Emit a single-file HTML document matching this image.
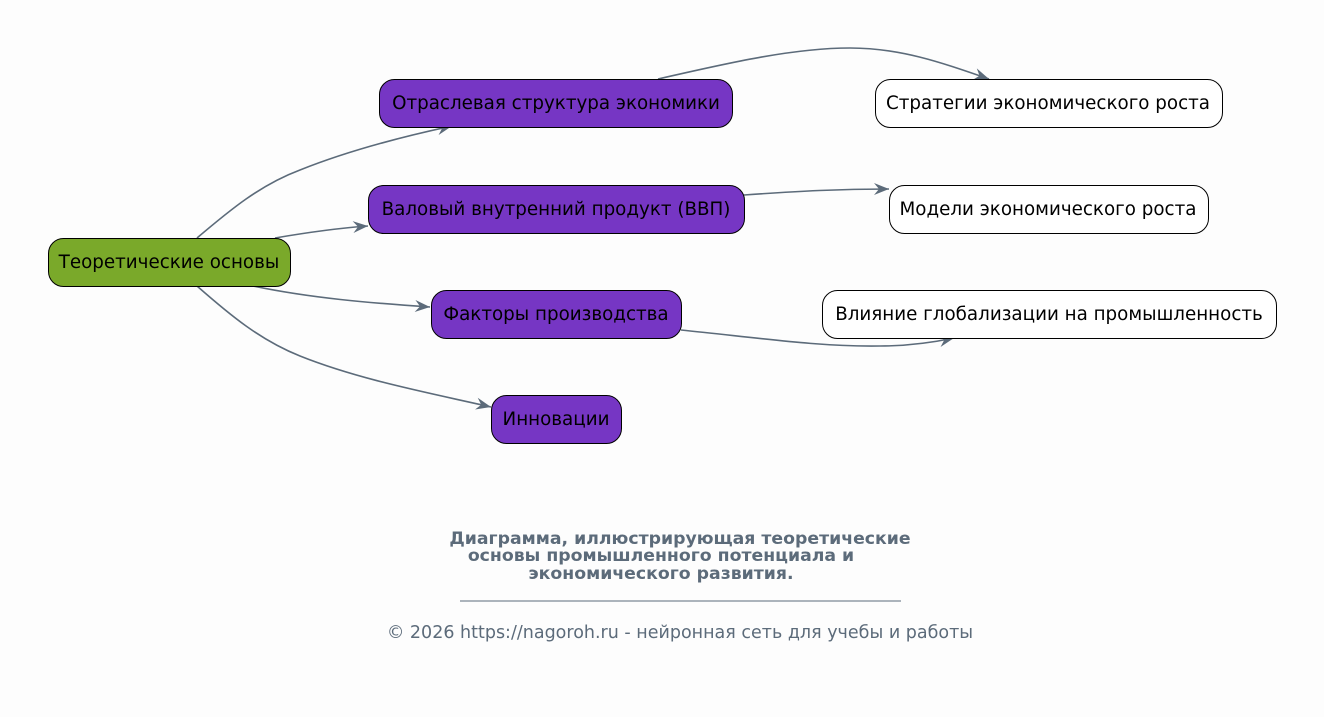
<!DOCTYPE html>
<html><head><meta charset="utf-8"><style>
html,body{margin:0;padding:0;background:#fdfdfd;}
svg{display:block;}
text{font-family:"DejaVu Sans","Liberation Sans",sans-serif;}
</style></head><body>
<svg width="1324" height="717" viewBox="0 0 1324 717" xmlns="http://www.w3.org/2000/svg">
<defs>
<marker id="a" viewBox="0 0 16 14" refX="15" refY="7" markerWidth="16" markerHeight="14" markerUnits="userSpaceOnUse" orient="auto">
<path d="M0,1 L15,7 L0,13 L5,7 z" fill="#5c6b7a"/>
</marker>
</defs>
<rect width="1324" height="717" fill="#fdfdfd"/>
<g fill="none" stroke="#5c6b7a" stroke-width="1.6" marker-end="url(#a)">
<path d="M197,238 C230,210 260,185 300,170 C350,150 410,135 452,126"/>
<path d="M275,238 C310,232 340,228 368,226"/>
<path d="M253,286 C310,298 370,303 430,307"/>
<path d="M197,286 C230,315 260,340 300,356 C360,380 430,393 491,407"/>
<path d="M658,79 C720,65 790,48 850,48 C900,48 940,62 989,79"/>
<path d="M744,195 C800,191 840,189 889,189"/>
<path d="M681,330 C760,338 820,347 880,346 C910,346 935,342 954,338"/>
</g>
<g stroke="#000" stroke-width="1">
<rect x="48.5" y="238.5" width="242" height="48" rx="15" fill="#7aa92a"/>
<rect x="379.5" y="79.5" width="353" height="48" rx="15" fill="#7636c4"/>
<rect x="368.5" y="185.5" width="376" height="48" rx="15" fill="#7636c4"/>
<rect x="431.5" y="290.5" width="250" height="48" rx="15" fill="#7636c4"/>
<rect x="491.5" y="395.5" width="130" height="48" rx="15" fill="#7636c4"/>
<rect x="875.5" y="79.5" width="347" height="48" rx="15" fill="#fff"/>
<rect x="889.5" y="185.5" width="319" height="48" rx="15" fill="#fff"/>
<rect x="822.5" y="290.5" width="454" height="48" rx="15" fill="#fff"/>
</g>
<g font-size="18.3" fill="#000" text-anchor="middle">
<text x="169" y="268">Теоретические основы</text>
<text x="556" y="109">Отраслевая структура экономики</text>
<text x="556" y="215">Валовый внутренний продукт (ВВП)</text>
<text x="556" y="320">Факторы производства</text>
<text x="556" y="425">Инновации</text>
<text x="1048" y="109">Стратегии экономического роста</text>
<text x="1048" y="215">Модели экономического роста</text>
<text x="1049" y="320">Влияние глобализации на промышленность</text>
</g>
<g font-size="17.3" font-weight="bold" fill="#5c6b7a" text-anchor="middle">
<text x="680" y="544">Диаграмма, иллюстрирующая теоретические</text>
<text x="661" y="561">основы промышленного потенциала и</text>
<text x="661" y="579">экономического развития.</text>
</g>
<line x1="460" y1="601" x2="901" y2="601" stroke="#5c6b7a" stroke-width="1"/>
<text x="680" y="638" font-size="17.5" fill="#5c6b7a" text-anchor="middle">© 2026 https://nagoroh.ru - нейронная сеть для учебы и работы</text>
</svg>
</body></html>
